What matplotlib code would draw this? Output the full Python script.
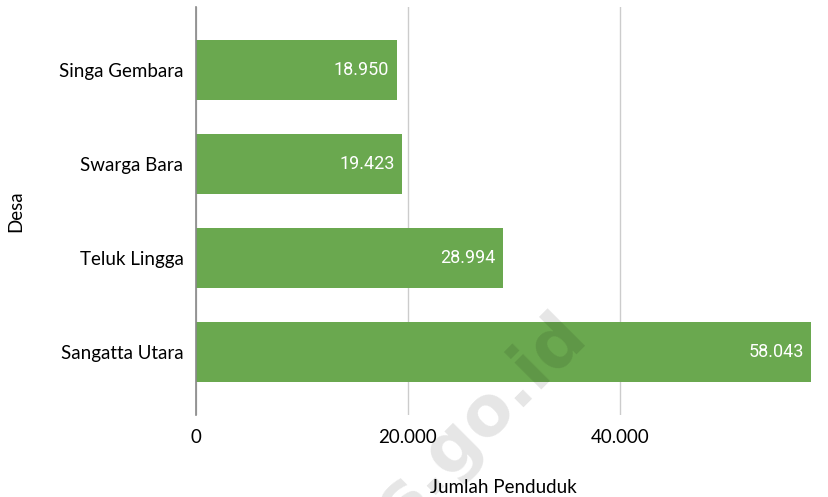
import matplotlib.pyplot as plt
from matplotlib.ticker import FuncFormatter

desa = ['Singa Gembara', 'Swarga Bara', 'Teluk Lingga', 'Sangatta Utara']
penduduk = [18950, 19423, 28994, 58043]
xticks = [0, 20000, 40000]


def fmt(v, pos=None):
    return f'{int(v):,}'.replace(',', '.')


fig = plt.figure(figsize=(8.29, 4.97), dpi=100)
ax = fig.add_axes([196 / 829, 82 / 497, 615 / 829, 408 / 497])

ypos = list(range(len(desa)))
bars = ax.barh(ypos, penduduk, height=0.64, color='#6aa84f', zorder=2)
ax.set_ylim(len(desa) - 0.33, -0.67)
ax.set_xlim(0, max(penduduk))

for bar, v in zip(bars, penduduk):
    ax.text(bar.get_width() - 700, bar.get_y() + bar.get_height() / 2, fmt(v),
            ha='right', va='center', color='white', fontsize=13, family='Roboto', zorder=3)

ax.set_yticks(ypos)
ax.set_yticklabels(desa, family='Lato', fontsize=13.5)
ax.set_xticks(xticks)
ax.xaxis.set_major_formatter(FuncFormatter(fmt))
for lab in ax.get_xticklabels():
    lab.set_family('Lato')
    lab.set_fontsize(13.5)
ax.tick_params(length=0, pad=9)
ax.tick_params(axis='x', pad=10)

ax.grid(axis='x', color='#cccccc', linewidth=1, zorder=0)
for s in ['top', 'right', 'bottom']:
    ax.spines[s].set_visible(False)
ax.spines['left'].set_color('#888888')
ax.spines['left'].set_linewidth(1.2)
ax.spines['left'].set_zorder(4)

ax.set_xlabel('Jumlah Penduduk', family='Lato', fontsize=13.5, labelpad=24)
ax.yaxis.set_label_coords(-172 / 615, 0.5)
ax.set_ylabel('Desa', family='Lato', fontsize=13.5)

# faint watermark
fig.text(0.537, 0.09, 'bps.go.id', rotation=45, ha='center', va='center',
         fontsize=50, fontweight='bold', family='DejaVu Sans', color='black', alpha=0.1)

fig.savefig('out.png', dpi=100)
